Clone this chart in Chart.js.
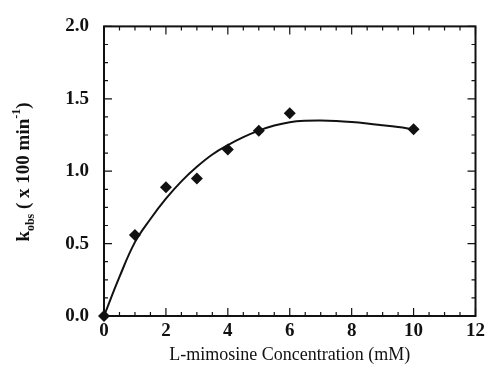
<!DOCTYPE html>
<html><head><meta charset="utf-8">
<script src="https://cdn.jsdelivr.net/npm/chart.js@4"></script>
<style>html,body{margin:0;padding:0;background:#fff}#wrap{width:489px;height:368px}</style>
</head><body><div id="wrap"><canvas id="c" width="489" height="368"></canvas></div>
<script>
const obsX = [0, 1, 2, 3, 4, 5, 6, 10];
const obsY = [0.0, 0.56, 0.89, 0.95, 1.15, 1.28, 1.40, 1.29];
const fitX = [0, 0.5, 1, 1.5, 2, 2.5, 3, 3.5, 4, 4.5, 5, 5.5, 6, 6.5, 7, 7.5, 8, 8.5, 9, 9.5, 10];
const fitY = [0.0, 0.27, 0.51, 0.67, 0.81, 0.93, 1.03, 1.115, 1.18, 1.235, 1.28, 1.315, 1.338, 1.348, 1.35, 1.347, 1.34, 1.33, 1.318, 1.305, 1.29];
const xTicks = [0, 2, 4, 6, 8, 10, 12];
const yTicks = [0.0, 0.5, 1.0, 1.5, 2.0];
const xTitle = 'L-mimosine Concentration (mM)';

const serif = '"Liberation Serif", "DejaVu Serif", serif';

const framePlugin = {
  id: 'frame',
  beforeDatasetsDraw(chart) {
    const {ctx, chartArea: a, scales: {x, y}} = chart;
    ctx.save();
    ctx.strokeStyle = '#111';
    ctx.lineWidth = 2;
    ctx.strokeRect(a.left, a.top, a.right - a.left, a.bottom - a.top);
    ctx.lineWidth = 1.2;
    ctx.beginPath();
    for (let v = 0; v <= 12.001; v += 0.5) {
      const px = x.getPixelForValue(v);
      const len = Math.abs(v % 2) < 1e-6 ? 8 : 4;
      ctx.moveTo(px, a.bottom); ctx.lineTo(px, a.bottom - len);
      ctx.moveTo(px, a.top); ctx.lineTo(px, a.top + len);
    }
    for (let v = 0; v <= 2.0001; v += 0.125) {
      const py = y.getPixelForValue(v);
      const major = Math.abs((v / 0.5) - Math.round(v / 0.5)) < 1e-6;
      const len = major ? 8 : 4;
      ctx.moveTo(a.left, py); ctx.lineTo(a.left + len, py);
      ctx.moveTo(a.right, py); ctx.lineTo(a.right - len, py);
    }
    ctx.stroke();
    ctx.restore();
  },
  afterDraw(chart) {
    const {ctx} = chart;
    ctx.save();
    ctx.fillStyle = '#111';
    const parts = [
      {t: 'k', f: 'bold 19px ' + serif, dy: 0},
      {t: 'obs', f: 'bold 12px ' + serif, dy: 5},
      {t: ' ( x 100 min', f: 'bold 19px ' + serif, dy: 0},
      {t: '-1', f: 'bold 12px ' + serif, dy: -9},
      {t: ')', f: 'bold 19px ' + serif, dy: 0}
    ];
    let total = 0;
    parts.forEach(p => { ctx.font = p.f; p.w = ctx.measureText(p.t).width; total += p.w; });
    ctx.translate(29, 172);
    ctx.rotate(-Math.PI / 2);
    ctx.textBaseline = 'alphabetic';
    let cx = -total / 2;
    parts.forEach(p => { ctx.font = p.f; ctx.fillText(p.t, cx, p.dy); cx += p.w; });
    ctx.restore();
  }
};

new Chart(document.getElementById('c'), {
  type: 'scatter',
  data: {
    datasets: [
      {
        type: 'line',
        data: fitX.map((v, i) => ({x: v, y: fitY[i]})),
        borderColor: '#111',
        borderWidth: 2,
        pointRadius: 0,
        tension: 0.4,
        fill: false
      },
      {
        data: obsX.map((v, i) => ({x: v, y: obsY[i]})),
        pointStyle: 'rectRot',
        pointRadius: 6,
        backgroundColor: '#111',
        borderColor: '#111',
        borderWidth: 0,
        clip: false
      }
    ]
  },
  options: {
    responsive: false,
    animation: false,
    devicePixelRatio: 1,
    layout: {padding: {top: 17, right: 9, left: 0, bottom: 0}},
    plugins: {legend: {display: false}, tooltip: {enabled: false}},
    scales: {
      x: {
        type: 'linear', min: 0, max: 12,
        afterBuildTicks: s => { s.ticks = xTicks.map(v => ({value: v})); },
        afterFit: s => { s.height = 52; },
        grid: {display: false, drawTicks: false},
        border: {display: false},
        ticks: {font: {family: serif, size: 19, weight: 'bold'}, color: '#111', padding: 4, maxRotation: 0},
        title: {display: true, text: xTitle, font: {family: serif, size: 18}, color: '#111', padding: {top: 0, bottom: 2}}
      },
      y: {
        type: 'linear', min: 0, max: 2,
        afterBuildTicks: s => { s.ticks = yTicks.map(v => ({value: v})); },
        afterFit: s => { s.width = 104; },
        grid: {display: false, drawTicks: false},
        border: {display: false},
        ticks: {font: {family: serif, size: 19, weight: 'bold'}, color: '#111', padding: 15, callback: v => v.toFixed(1)}
      }
    }
  },
  plugins: [framePlugin]
});
</script></body></html>
